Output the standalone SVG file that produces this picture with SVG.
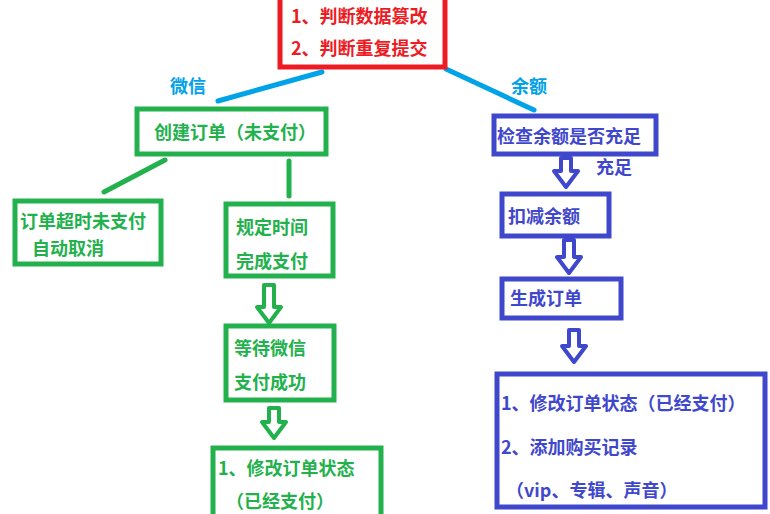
<svg xmlns="http://www.w3.org/2000/svg" width="770" height="514" viewBox="0 0 770 514">
<style>
text{font-family:"Noto Sans CJK SC","Liberation Sans",sans-serif;font-weight:bold;font-size:18px;dominant-baseline:central}
.r{fill:none;stroke:#ed1c24;stroke-width:5}
.g{fill:none;stroke:#22b14c;stroke-width:5}
.b{fill:none;stroke:#3f48cc;stroke-width:5}
.tr{fill:#ed1c24}.tg{fill:#22b14c}.tb{fill:#3f48cc}.tl{fill:#00a2e8}
.ln{stroke:#00a2e8;stroke-width:5;stroke-linecap:round}
.lg{stroke:#22b14c;stroke-width:5;stroke-linecap:round}
.ag{fill:none;stroke:#22b14c;stroke-width:4;stroke-linejoin:round}
.ab{fill:none;stroke:#3f48cc;stroke-width:4;stroke-linejoin:round}
</style>
<rect width="770" height="514" fill="#fff"/>
<g id="connectors">
<line class="ln" x1="322" y1="72" x2="218" y2="101"/>
<line class="ln" x1="446" y1="69" x2="534" y2="110"/>
<line class="lg" x1="165" y1="160" x2="104" y2="192"/>
<line class="lg" x1="289" y1="161" x2="289" y2="196"/>
<path class="ag" d="M264,285 h10 v22 h7 l-12,16 l-12,-16 h7 z"/>
<path class="ag" d="M269,408 h10 v14 h7 l-12,16 l-12,-16 h7 z"/>
<path class="ab" d="M561,158 h10 v13 h7 l-12,16 l-12,-16 h7 z"/>
<path class="ab" d="M564,240 h10 v17 h7 l-12,16 l-12,-16 h7 z"/>
<path class="ab" d="M569,330 h10 v16 h7 l-12,16 l-12,-16 h7 z"/>
<text class="tl" x="188" y="85" text-anchor="middle">微信</text>
<text class="tl" x="529" y="85" text-anchor="middle">余额</text>
<text class="tb" x="614" y="166" text-anchor="middle">充足</text>
</g>
<g id="n-top"><rect class="r" x="280" y="-5" width="165" height="72"/>
<text class="tr" x="291" y="15">1、判断数据篡改</text><text class="tr" x="291" y="47">2、判断重复提交</text></g>
<g id="n-create"><rect class="g" x="137" y="109" width="189" height="45"/><text class="tg" x="154" y="131">创建订单（未支付）</text></g>
<g id="n-timeout"><rect class="g" x="15" y="201" width="146" height="63"/><text class="tg" x="20" y="220">订单超时未支付</text><text class="tg" x="32" y="247">自动取消</text></g>
<g id="n-time"><rect class="g" x="226" y="204" width="107" height="72"/><text class="tg" x="236" y="226">规定时间</text><text class="tg" x="236" y="260">完成支付</text></g>
<g id="n-wait"><rect class="g" x="226" y="326" width="108" height="74"/><text class="tg" x="234" y="347">等待微信</text><text class="tg" x="234" y="381">支付成功</text></g>
<g id="n-mod"><rect class="g" x="213" y="448" width="168" height="72"/><text class="tg" x="218" y="467">1、修改订单状态</text><text class="tg" x="226" y="500">（已经支付）</text></g>
<g id="n-check"><rect class="b" x="494" y="116" width="162" height="38"/><text class="tb" x="497" y="135">检查余额是否充足</text></g>
<g id="n-deduct"><rect class="b" x="502" y="194" width="107" height="42"/><text class="tb" x="508" y="215">扣减余额</text></g>
<g id="n-gen"><rect class="b" x="502" y="279" width="119" height="39"/><text class="tb" x="510" y="297">生成订单</text></g>
<g id="n-final"><rect class="b" x="497" y="374" width="268" height="133"/><text class="tb" x="501" y="402">1、修改订单状态（已经支付）</text><text class="tb" x="501" y="446">2、添加购买记录</text><text class="tb" x="506" y="489">（vip、专辑、声音）</text></g>
</svg>
